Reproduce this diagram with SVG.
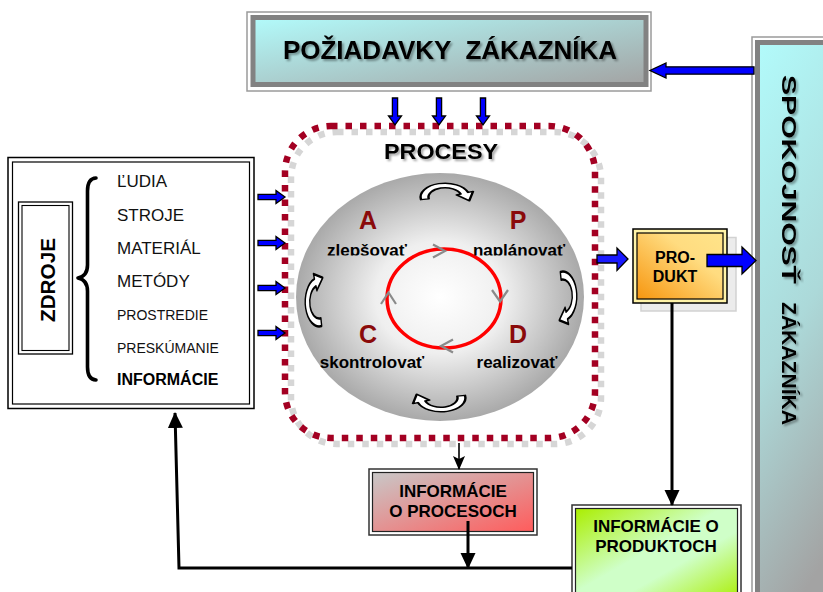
<svg xmlns="http://www.w3.org/2000/svg" width="823" height="592" viewBox="0 0 823 592">
  <style>
    text { font-family: "Liberation Sans", Arial, sans-serif; fill: #000; }
    .b { font-weight: bold; }
    .pre { white-space: pre; }
    .item { font-size: 17px; fill: #111; }
    .item-s { font-size: 14px; fill: #111; }
    .pdca { font-size: 25px; font-weight: bold; fill: #8a0a0a; text-anchor: middle; }
    .step { font-size: 17px; font-weight: bold; text-anchor: middle; }
    .box-t { font-size: 17px; font-weight: bold; text-anchor: middle; }
    .blue { fill: #0000ff; stroke: #000; stroke-width: 1.3; stroke-linejoin: miter; }
    .loop { fill: #fff; stroke: #000; stroke-width: 1.4; stroke-linejoin: round; }
    .chev { fill: none; stroke: #8a8a8a; stroke-width: 2.2; }
    .wire { fill: none; stroke: #000; stroke-width: 3; }
    .dots { fill: none; stroke-width: 6.5; stroke-dasharray: 6.5 8; }
  </style>
  <defs>
    <linearGradient id="cyanGray" x1="0" y1="0" x2="1" y2="1">
      <stop offset="0" stop-color="#b2fbfb"/>
      <stop offset="1" stop-color="#a3a3a3"/>
    </linearGradient>
    <linearGradient id="cyanGrayV" x1="0" y1="0" x2="0.25" y2="1">
      <stop offset="0" stop-color="#b2fbfb"/>
      <stop offset="0.55" stop-color="#acd9d9"/>
      <stop offset="1" stop-color="#a3a3a3"/>
    </linearGradient>
    <linearGradient id="grayRed" x1="0" y1="0" x2="1" y2="1">
      <stop offset="0" stop-color="#c8c8c8"/>
      <stop offset="1" stop-color="#ff5c5c"/>
    </linearGradient>
    <linearGradient id="lime" x1="0" y1="0" x2="1" y2="1">
      <stop offset="0" stop-color="#aaee00"/>
      <stop offset="0.45" stop-color="#cfffc8"/>
      <stop offset="0.62" stop-color="#cfffc8"/>
      <stop offset="1" stop-color="#aaee00"/>
    </linearGradient>
    <linearGradient id="orange" x1="1" y1="0" x2="0" y2="1">
      <stop offset="0" stop-color="#ffe48a"/>
      <stop offset="0.35" stop-color="#ffdc80"/>
      <stop offset="1" stop-color="#f7960f"/>
    </linearGradient>
    <radialGradient id="sphere" cx="0.5" cy="0.5" r="0.5">
      <stop offset="0" stop-color="#ffffff"/>
      <stop offset="0.45" stop-color="#efefef"/>
      <stop offset="1" stop-color="#a9a9a9"/>
    </radialGradient>
    <filter id="shadow" x="-10%" y="-30%" width="120%" height="160%">
      <feDropShadow dx="2" dy="2" stdDeviation="1.2" flood-color="#000" flood-opacity="0.35"/>
    </filter>
    <clipPath id="cutTop">
      <rect x="300" y="200" width="300" height="55.5"/>
    </clipPath>
    <!-- small blue block arrow, tip at origin, pointing right -->
    <path id="barrow" d="M -27 -2.6 H -9 V -6.5 L 0 0 L -9 6.5 V 2.6 H -27 Z"/>
    <!-- hollow curved arrow, convex up, head on the right pointing down -->
    <path id="turn" d="M -13.79 2.43 A 14 14 0 0 1 13.16 -4.79 L 15.98 -5.81 L 13.8 3.5 L 6.58 -2.39 L 8.93 -3.25 A 9.5 9.5 0 0 0 -9.36 1.65 Z"/>
    <marker id="head" markerUnits="userSpaceOnUse" markerWidth="16" markerHeight="16" viewBox="0 0 16 16" refX="15" refY="8" orient="auto">
      <path d="M 0 0.5 L 16 8 L 0 15.5 Z" fill="#000"/>
    </marker>
    <marker id="headThin" markerUnits="userSpaceOnUse" markerWidth="14" markerHeight="14" viewBox="0 0 14 14" refX="13" refY="7" orient="auto">
      <path d="M 0 1 L 14 7 L 0 13 L 3 7 Z" fill="#000"/>
    </marker>
  </defs>

  <rect width="823" height="592" fill="#fff"/>

  <!-- customer requirements -->
  <g id="requirements">
    <rect x="247" y="12" width="404" height="79" fill="#fff" stroke="#9a9a9a" stroke-width="1.5"/>
    <rect x="253" y="17.5" width="393" height="67" fill="url(#cyanGray)" stroke="#828282" stroke-width="5"/>
    <text class="b pre" x="450" y="59" font-size="26" text-anchor="middle" filter="url(#shadow)">POŽIADAVKY  ZÁKAZNÍKA</text>
  </g>

  <!-- customer satisfaction -->
  <g id="satisfaction">
    <rect x="752" y="37" width="100" height="600" fill="#fff" stroke="#9a9a9a" stroke-width="1.5"/>
    <rect x="757.5" y="42.5" width="90" height="590" fill="url(#cyanGrayV)" stroke="#828282" stroke-width="5"/>
    <g filter="url(#shadow)">
      <text class="b" font-size="20" transform="translate(782,75) rotate(90)" textLength="209" lengthAdjust="spacingAndGlyphs">SPOKOJNOSŤ</text>
      <text class="b" font-size="20" transform="translate(782,302) rotate(90)" textLength="123" lengthAdjust="spacingAndGlyphs">ZÁKAZNÍKA</text>
    </g>
  </g>

  <!-- resources -->
  <g id="resources">
    <rect x="8" y="157.5" width="246" height="251" fill="#fff" stroke="#000" stroke-width="1.5"/>
    <rect x="12.5" y="162" width="237" height="242" fill="none" stroke="#000" stroke-width="1.2"/>
    <rect x="18.5" y="202" width="54" height="152" fill="#fff" stroke="#000" stroke-width="1.3"/>
    <rect x="22" y="205.5" width="47" height="145" fill="none" stroke="#000" stroke-width="1.1"/>
    <text class="b" font-size="20" transform="translate(55,322) rotate(-90)" textLength="84" lengthAdjust="spacingAndGlyphs">ZDROJE</text>
    <path d="M 96 178 Q 87.5 178.5 87.5 191 L 87.5 265 Q 87.5 276 78 278 Q 87.5 280 87.5 291 L 87.5 367 Q 87.5 379.5 96 380" fill="none" stroke="#000" stroke-width="3.6" stroke-linecap="round" stroke-linejoin="round"/>
    <text class="item" x="117" y="187">ĽUDIA</text>
    <text class="item" x="117" y="221">STROJE</text>
    <text class="item" x="117" y="254">MATERIÁL</text>
    <text class="item" x="117" y="287">METÓDY</text>
    <text class="item-s" x="117" y="320">PROSTREDIE</text>
    <text class="item-s" x="117" y="353">PRESKÚMANIE</text>
    <text class="b" font-size="16" x="117" y="385">INFORMÁCIE</text>
  </g>

  <!-- processes -->
  <g id="processes">
    <rect class="dots" x="291" y="132" width="310" height="312" rx="46" stroke="#d6d6d6"/>
    <ellipse cx="440" cy="297" rx="144" ry="124" fill="url(#sphere)"/>
    <rect class="dots" x="285" y="126" width="310" height="312" rx="46" stroke="#a30022"/>
    <text class="b" x="441" y="159" font-size="22" text-anchor="middle" textLength="114" lengthAdjust="spacingAndGlyphs" filter="url(#shadow)">PROCESY</text>

    <ellipse cx="444" cy="298.5" rx="57" ry="49.5" fill="none" stroke="#ff0000" stroke-width="3.5"/>
    <path class="chev" d="M 433 244.5 L 445 251 L 433 257.5"/>
    <path class="chev" d="M 492 290 L 500 301.5 L 508 290"/>
    <path class="chev" d="M 453 339.5 L 441 346 L 453 352.5"/>
    <path class="chev" d="M 381 304 L 388.5 292.5 L 396 304"/>

    <text class="pdca" x="368" y="229">A</text>
    <text class="pdca" x="518" y="229">P</text>
    <text class="pdca" x="368" y="343">C</text>
    <text class="pdca" x="518" y="343">D</text>

    <g clip-path="url(#cutTop)">
      <text class="step" x="367" y="256">zlepšovať</text>
      <text class="step" x="519" y="256">naplánovať</text>
    </g>
    <text class="step" x="372" y="368">skontrolovať</text>
    <text class="step" x="517" y="368">realizovať</text>

    <use href="#turn" class="loop" transform="translate(447,192) translate(-1.9,5.25) scale(1.75,1)"/>
    <use href="#turn" class="loop" transform="translate(568,298) rotate(90) translate(-1.9,5.25) scale(1.75,1)"/>
    <use href="#turn" class="loop" transform="translate(439,403) rotate(180) translate(-1.9,5.25) scale(1.75,1)"/>
    <use href="#turn" class="loop" transform="translate(314,300) rotate(270) translate(-1.9,5.25) scale(1.75,1)"/>
  </g>

  <!-- product -->
  <g id="product">
    <rect x="641" y="237.5" width="95" height="73.5" fill="#ececec" stroke="#d2d2d2" stroke-width="1.5"/>
    <rect x="633" y="229" width="94" height="74" fill="#fff3a8" stroke="#000" stroke-width="1.5"/>
    <rect x="637" y="233" width="86" height="66" fill="url(#orange)" stroke="#000" stroke-width="1.2"/>
    <text class="b" font-size="16" x="675" y="263" text-anchor="middle">PRO-</text>
    <text class="b" font-size="16" x="675" y="282" text-anchor="middle">DUKT</text>
  </g>

  <!-- process information -->
  <g id="process-info">
    <rect x="369" y="469" width="168" height="66" fill="#fff" stroke="#333" stroke-width="1.5"/>
    <rect x="372.5" y="472.5" width="161" height="59" fill="url(#grayRed)" stroke="#222" stroke-width="1.2"/>
    <text class="box-t" x="453" y="497">INFORMÁCIE</text>
    <text class="box-t" x="453" y="517">O PROCESOCH</text>
  </g>

  <!-- product information -->
  <g id="product-info">
    <rect x="572" y="505" width="169" height="100" fill="#fff" stroke="#333" stroke-width="1.5"/>
    <rect x="575.5" y="508.5" width="162" height="93" fill="url(#lime)" stroke="#222" stroke-width="1.2"/>
    <text class="box-t" x="656" y="532">INFORMÁCIE O</text>
    <text class="box-t" x="656" y="552">PRODUKTOCH</text>
  </g>

  <!-- connectors -->
  <g id="connectors">
    <!-- requirements flowing into processes -->
    <use href="#barrow" class="blue" transform="translate(395,125) rotate(90)"/>
    <use href="#barrow" class="blue" transform="translate(439,125) rotate(90)"/>
    <use href="#barrow" class="blue" transform="translate(483,125) rotate(90)"/>
    <!-- resources flowing into processes -->
    <use href="#barrow" class="blue" transform="translate(285,197)"/>
    <use href="#barrow" class="blue" transform="translate(285,243)"/>
    <use href="#barrow" class="blue" transform="translate(285,288)"/>
    <use href="#barrow" class="blue" transform="translate(285,333)"/>
    <!-- satisfaction back to requirements -->
    <path class="blue" d="M 754 66.8 H 666 V 63 L 650 70.5 L 666 78 V 74.2 H 754 Z"/>
    <!-- processes to product -->
    <path class="blue" d="M 597 255 H 617 V 248 L 628 259 L 617 270.5 V 263 H 597 Z" fill-opacity="0.9"/>
    <!-- product to satisfaction -->
    <path class="blue" d="M 707 254.5 H 742 V 247 L 756 260.5 L 742 274 V 266.5 H 707 Z"/>

    <!-- information flows -->
    <line x1="459" y1="443" x2="459" y2="469" stroke="#000" stroke-width="1.6" marker-end="url(#headThin)"/>
    <line class="wire" x1="468" y1="521" x2="468" y2="568" stroke-width="2.5" marker-end="url(#head)"/>
    <line class="wire" x1="672" y1="303" x2="672" y2="505" stroke-width="2.5" marker-end="url(#head)"/>
    <polyline class="wire" points="572,568 179,568 175,413" marker-end="url(#head)"/>
  </g>
</svg>
